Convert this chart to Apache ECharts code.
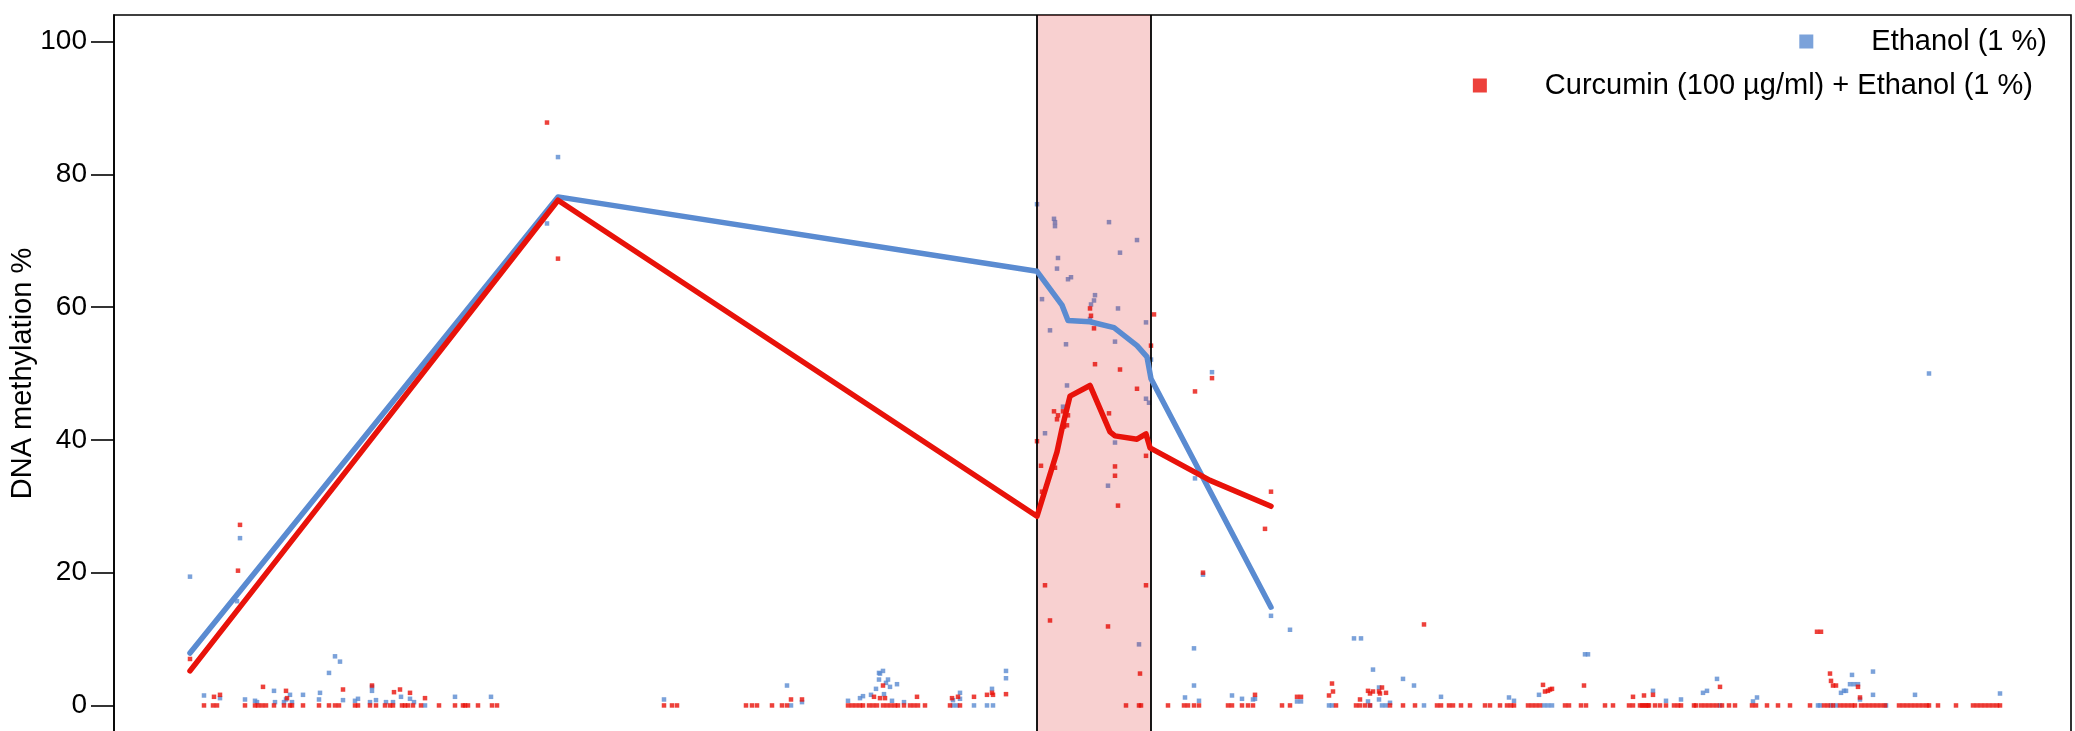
<!DOCTYPE html>
<html>
<head>
<meta charset="utf-8">
<title>DNA methylation</title>
<script src="https://cdn.jsdelivr.net/npm/echarts@6/dist/echarts.min.js"></script>
<style>
  html, body { margin: 0; padding: 0; background: #fff; }
  #chart { width: 2075px; height: 731px; }
</style>
</head>
<body>
<div id="chart"></div>
<script>
// ---- data ---------------------------------------------------------------
// x = relative CpG position along the region, y = DNA methylation (%)

const seriesNames = ['Ethanol (1 %)', 'Curcumin (100 µg/ml) + Ethanol (1 %)'];
const yTicks = [0, 20, 40, 60, 80, 100];

// highlighted region [start, end]
const highlightRegion = [1037, 1151];

// smoothed methylation trend
const ethanolTrend = [
  [190, 7.9], [558, 76.6], [1037, 65.4], [1062, 60.3], [1068, 58.0], [1090, 57.8],
  [1114, 56.9], [1137, 54.2], [1147, 52.5], [1151, 49.2], [1271, 14.8]
];
const curcuminTrend = [
  [190, 5.2], [558, 76.1], [1037, 28.5], [1057, 38.2], [1062, 41.7], [1070, 46.6],
  [1090, 48.2], [1110, 41.2], [1115, 40.6], [1137, 40.1], [1146, 40.9], [1150, 38.8],
  [1210, 33.9], [1271, 30.0]
];

// individual CpG values (non-zero)
const ethanolPoints = [
  [190, 19.4], [240, 25.2], [237, 15.7], [204, 1.5], [220, 1.1], [245, 0.9], [255, 0.7],
  [257, 0.5], [274, 2.2], [275, 0.5], [284, 0.5], [286, 0.9], [290, 1.6], [292, 0.5],
  [303, 1.6], [319, 0.9], [320, 1.9], [329, 4.9], [335, 7.4], [340, 6.6], [343, 0.8],
  [355, 0.7], [358, 1.0], [370, 0.5], [372, 2.8], [372, 2.2], [376, 0.8], [386, 0.5],
  [393, 0.5], [401, 1.3], [410, 1.0], [414, 0.5], [455, 1.3], [491, 1.3],
  [547, 72.6], [558, 82.6],
  [664, 0.9], [787, 3.0], [802, 0.5], [848, 0.7], [860, 1.1], [863, 1.4], [871, 1.6],
  [876, 2.5], [879, 3.9], [879, 4.9], [883, 5.2], [880, 4.8], [886, 3.4], [888, 3.9],
  [890, 2.8], [884, 1.7], [892, 0.7], [897, 3.2], [904, 0.5], [953, 0.8], [960, 1.9],
  [960, 1.0], [992, 2.5], [1006, 5.2], [1006, 4.1],
  [1037, 75.5], [1054, 73.3], [1055, 72.8], [1055, 72.2], [1109, 72.8], [1137, 70.1],
  [1120, 68.2], [1058, 67.4], [1057, 65.8], [1071, 64.5], [1068, 64.2], [1042, 61.2],
  [1095, 61.8], [1094, 61.0], [1091, 60.4], [1118, 59.8], [1146, 57.7], [1050, 56.5],
  [1066, 54.4], [1115, 54.8], [1151, 52.1], [1067, 48.2], [1063, 45.0], [1146, 46.2],
  [1149, 45.6], [1045, 41.0], [1115, 39.6], [1108, 33.1], [1139, 9.2], [1090, 58.2],
  [1212, 50.2], [1195, 34.2], [1203, 19.7], [1271, 13.5], [1290, 11.4], [1354, 10.1],
  [1361, 10.1], [1194, 8.6], [1373, 5.4], [1403, 4.0], [1414, 3.0], [1194, 3.0],
  [1585, 7.7], [1588, 7.7], [1539, 1.6], [1185, 1.2], [1199, 0.7], [1232, 1.5],
  [1242, 1.0], [1253, 0.9], [1255, 1.0], [1297, 0.6], [1301, 0.6], [1368, 0.6],
  [1379, 0.9], [1390, 0.4], [1379, 2.7], [1441, 1.3], [1509, 1.2], [1514, 0.7],
  [1929, 50.0], [1852, 4.6], [1873, 5.1], [1850, 3.2], [1854, 3.2], [1858, 3.2],
  [1841, 1.9], [1844, 2.2], [1846, 2.2], [1860, 0.9], [1873, 1.6], [1915, 1.6],
  [2000, 1.8], [1717, 4.0], [1707, 2.2], [1703, 1.9], [1653, 2.2], [1666, 0.7],
  [1681, 0.9], [1757, 1.2], [1753, 0.6]
];
// positions with 0 % methylation
const ethanolZeroPositions = [
  425, 791, 953, 957, 974, 987, 993, 1329, 1332, 1370, 1382, 1386, 1424, 1544, 1548,
  1552, 1720, 1818, 1820, 1831, 1836, 1886
];

const curcuminPoints = [
  [190, 7.0], [240, 27.2], [238, 20.3], [214, 1.3], [220, 1.6], [263, 2.8], [286, 2.2],
  [287, 1.1], [343, 2.4], [372, 3.0], [394, 2.0], [400, 2.4], [410, 1.9], [425, 1.1],
  [547, 87.8], [558, 67.3],
  [791, 0.9], [802, 0.9], [874, 1.3], [880, 1.1], [883, 3.0], [885, 1.1], [917, 1.3],
  [952, 1.1], [958, 1.3], [974, 1.3], [987, 1.6], [992, 1.9], [993, 1.6], [1006, 1.7],
  [1090, 59.8], [1091, 58.7], [1094, 56.8], [1154, 58.9], [1151, 54.2], [1095, 51.4],
  [1120, 50.6], [1137, 47.7], [1109, 44.0], [1054, 44.3], [1058, 43.7], [1057, 43.1],
  [1063, 44.3], [1068, 43.7], [1067, 42.2], [1064, 42.0], [1037, 39.8], [1146, 37.6],
  [1041, 36.1], [1055, 35.8], [1115, 36.0], [1115, 34.6], [1042, 32.2], [1118, 30.1],
  [1045, 18.1], [1146, 18.1], [1050, 12.8], [1108, 11.9], [1140, 4.8],
  [1195, 47.3], [1212, 49.3], [1271, 32.2], [1265, 26.6], [1203, 20.0], [1424, 12.2],
  [1332, 3.3], [1543, 3.1], [1584, 3.0], [1545, 2.1], [1548, 2.2], [1550, 2.4],
  [1552, 2.5], [1255, 1.6], [1297, 1.3], [1301, 1.3], [1329, 1.5], [1333, 2.1],
  [1360, 0.9], [1368, 2.2], [1370, 1.8], [1373, 2.1], [1379, 2.1], [1382, 2.7],
  [1386, 1.9], [1380, 1.8], [1633, 1.3], [1644, 1.5],
  [1817, 11.1], [1821, 11.1], [1830, 4.8], [1831, 3.7], [1833, 3.0], [1836, 3.0],
  [1858, 2.8], [1860, 1.2], [1720, 2.8], [1653, 1.6]
];
const curcuminZeroPositions = [
  204, 213, 217, 245, 255, 258, 262, 266, 274, 284, 290, 292, 303, 319, 329, 335, 339,
  355, 358, 370, 376, 385, 390, 393, 402, 405, 408, 413, 421, 439, 455, 463, 465, 468,
  478, 492, 497,
  664, 672, 677, 746, 752, 757, 772, 782, 787, 848, 852, 856, 860, 863, 869, 873, 877,
  883, 887, 891, 895, 898, 904, 910, 914, 918, 925, 950, 960,
  1126, 1139, 1141, 1168, 1184, 1188, 1194, 1199, 1228, 1232, 1242, 1248, 1253, 1282,
  1290, 1336, 1356, 1360, 1365, 1370, 1390, 1403, 1415, 1437, 1441, 1449, 1453, 1461,
  1470, 1485, 1490, 1500, 1507, 1511, 1514, 1528, 1532, 1536, 1540, 1565, 1569, 1581,
  1586, 1605, 1613, 1629, 1633, 1640, 1644, 1648,
  1642, 1646, 1649, 1655, 1660, 1666, 1674, 1678, 1681, 1694, 1696, 1701, 1705, 1709,
  1713, 1717, 1722, 1729, 1735, 1752, 1756, 1767, 1778, 1790, 1810, 1824, 1828, 1833,
  1840, 1844, 1848, 1852, 1855, 1861, 1865, 1869, 1873, 1877, 1881, 1885, 1899, 1903,
  1907, 1911, 1915, 1919, 1923, 1927, 1929, 1938, 1956, 1973, 1977, 1981, 1985, 1989,
  1993, 1997, 2000
];

// ---- styling ------------------------------------------------------------
const BLUE = '#5a8bd1';
const RED = '#e8120a';
const FONT = '"Liberation Sans", Arial, Helvetica, sans-serif';
const X_MIN = 114, X_MAX = 2071;
const Y_MIN = -4, Y_MAX = 104;

const withZeros = (points, zeros) => points.concat(zeros.map(x => [x, 0]));

const chart = echarts.init(document.getElementById('chart'), null, { renderer: 'canvas' });

chart.setOption({
  animation: false,
  backgroundColor: '#fff',
  textStyle: { fontFamily: FONT },
  grid: {
    left: 114, right: 4, top: 15, height: 717,
    containLabel: false, outerBoundsMode: 'none',
    show: true, borderColor: '#000', borderWidth: 1.6, backgroundColor: 'transparent'
  },
  legend: [
    {
      data: [seriesNames[0]], right: 28, top: 27, padding: 0,
      icon: 'rect', itemWidth: 14, itemHeight: 14, selectedMode: false,
      textStyle: { fontSize: 29, color: '#000', fontFamily: FONT, padding: [0, 0, 0, 53] }
    },
    {
      data: [seriesNames[1]], right: 42, top: 71, padding: 0,
      icon: 'rect', itemWidth: 14, itemHeight: 14, selectedMode: false,
      textStyle: { fontSize: 29, color: '#000', fontFamily: FONT, padding: [0, 0, 0, 53] }
    }
  ],
  xAxis: {
    type: 'value', min: X_MIN, max: X_MAX, show: false
  },
  yAxis: {
    type: 'value', min: Y_MIN, max: Y_MAX,
    name: 'DNA methylation %', nameLocation: 'middle', nameGap: 77, nameMoveOverlap: false,
    nameTextStyle: { fontSize: 29, color: '#000', fontFamily: FONT },
    axisLine: { show: true, lineStyle: { color: '#000', width: 1.6 } },
    axisTick: { show: true, length: 23, customValues: yTicks, lineStyle: { color: '#000', width: 1.6 } },
    axisLabel: { customValues: yTicks, fontSize: 28, color: '#000', margin: 27, fontFamily: FONT },
    splitLine: { show: false }
  },
  series: [
    {
      name: seriesNames[0], type: 'scatter', z: 2, silent: true,
      symbol: 'rect', symbolSize: 4.5, itemStyle: { color: BLUE },
      data: withZeros(ethanolPoints, ethanolZeroPositions)
    },
    {
      name: seriesNames[1], type: 'scatter', z: 2, silent: true,
      symbol: 'rect', symbolSize: 4.5, itemStyle: { color: RED },
      data: withZeros(curcuminPoints, curcuminZeroPositions)
    },
    {
      // translucent highlighted region with its boundary lines
      type: 'custom', z: 3, silent: true,
      encode: { x: [0, 1] },
      data: [highlightRegion],
      renderItem: function (params, api) {
        const p0 = api.coord([api.value(0), Y_MAX]);
        const p1 = api.coord([api.value(1), Y_MIN]);
        return {
          type: 'group',
          children: [
            { type: 'rect', shape: { x: p0[0], y: p0[1], width: p1[0] - p0[0], height: p1[1] - p0[1] },
              style: { fill: 'rgba(217,0,0,0.184)' } },
            { type: 'line', shape: { x1: p0[0], y1: p0[1], x2: p0[0], y2: p1[1] },
              style: { stroke: '#000', lineWidth: 1.8 } },
            { type: 'line', shape: { x1: p1[0], y1: p0[1], x2: p1[0], y2: p1[1] },
              style: { stroke: '#000', lineWidth: 1.8 } }
          ]
        };
      }
    },
    {
      name: seriesNames[0], type: 'line', z: 4, silent: true,
      showSymbol: false, symbol: 'none', itemStyle: { color: BLUE },
      lineStyle: { color: BLUE, width: 5.5, cap: 'round', join: 'round' },
      data: ethanolTrend
    },
    {
      name: seriesNames[1], type: 'line', z: 4, silent: true,
      showSymbol: false, symbol: 'none', itemStyle: { color: RED },
      lineStyle: { color: RED, width: 5.5, cap: 'round', join: 'round' },
      data: curcuminTrend
    }
  ]
});
</script>
</body>
</html>
